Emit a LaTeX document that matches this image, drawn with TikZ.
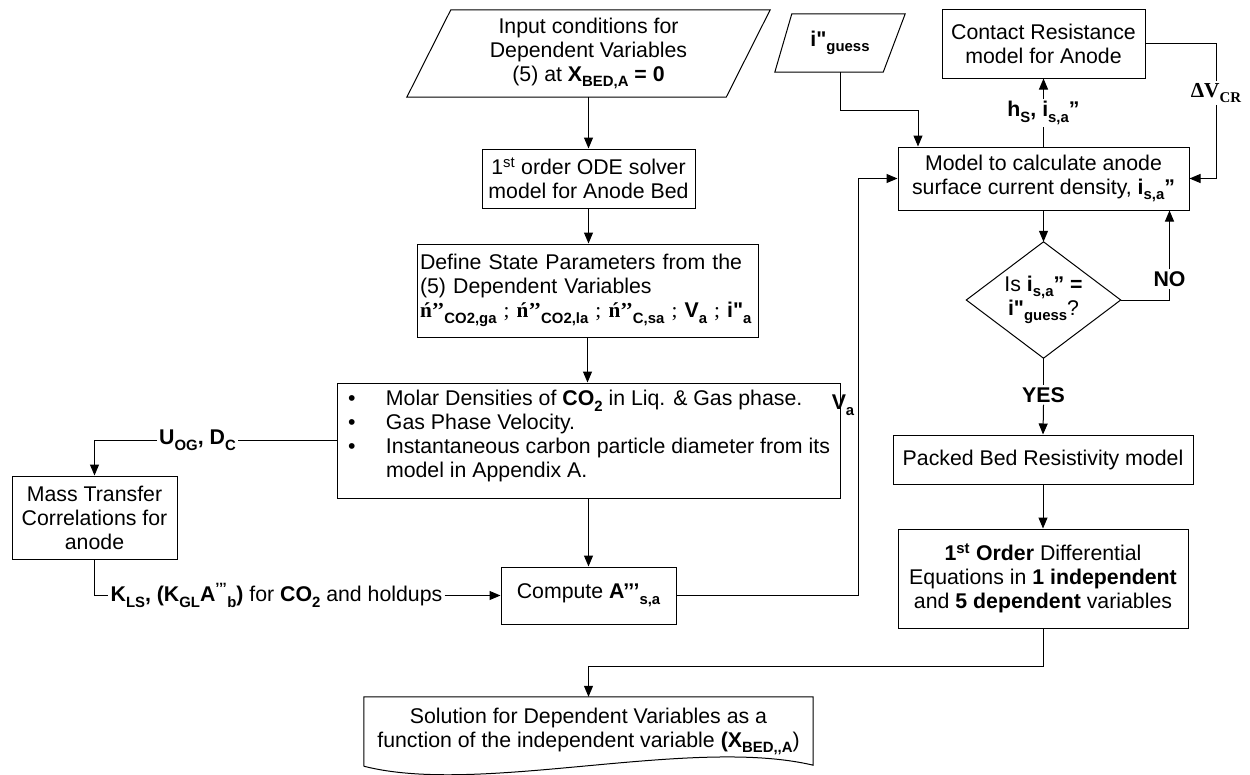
\documentclass[tikz,border=0pt]{standalone}
\usepackage{fontspec}
\setmainfont{Liberation Sans}[Ligatures=TeXOff]
\newfontfamily\tnr{Liberation Serif}[Ligatures=TeXOff]
\usetikzlibrary{arrows.meta}
\newcommand\fs{\fontsize{21.3pt}{24pt}\selectfont}
\newcommand\lo[1]{\raisebox{-0.5ex}{\fontsize{14.9pt}{15pt}\selectfont #1}}
\newcommand\hi[1]{\textsuperscript{#1}}
\begin{document}
\begin{tikzpicture}[x=1pt,y=-1pt,
  box/.style={draw, line width=1pt, font=\fs, align=center, inner sep=2pt},
  ghost/.style={font=\fs, align=center, inner sep=0pt},
  lbl/.style={font=\fs\bfseries, inner sep=2pt, fill=white},
  conn/.style={line width=1pt},
  arr/.style={conn, -{Triangle[length=11pt,width=9pt]}}]
\useasboundingbox (0,0) rectangle (1250,774);

% input parallelogram
\node[ghost, minimum width=363pt, minimum height=87pt] (inp) at (588.5,53.5)
  {Input conditions for\\Dependent Variables\\(5) at \textbf{X\lo{BED,A} = 0}};
\draw[conn] ([xshift=44pt]inp.north west) -- (inp.north east) -- ([xshift=-44pt]inp.south east) -- (inp.south west) -- cycle;

% guess parallelogram
\node[ghost, minimum width=130pt, minimum height=58pt] (gs) at (840,43) {\textbf{i"\lo{guess}}};
\draw[conn] ([xshift=17pt]gs.north west) -- (gs.north east) -- ([xshift=-22pt]gs.south east) -- (gs.south west) -- cycle;

\node[box, minimum width=213pt, minimum height=59pt] (ode) at (588.5,178.5)
  {1\hi{st} order ODE solver\\model for Anode Bed};

\node[box, text width=335pt, inner xsep=3pt, minimum height=93pt, align=left] (def) at (587.5,290.5)
  {Define State Parameters from the\\(5) Dependent Variables\\{\tnr\bfseries ń’’}\textbf{\lo{CO2,ga}} {\tnr ;} {\tnr\bfseries ń’’}\textbf{\lo{CO2,la}} {\tnr ;} {\tnr\bfseries ń’’}\textbf{\lo{C,sa}} {\tnr ;} \textbf{V\lo{a}} {\tnr ;} \textbf{i"\lo{a}}};

\node[box, minimum width=503pt, minimum height=115pt, inner xsep=5pt, align=left, anchor=west] (bul) at (337,440.5)
  {\begin{tabular}{@{}p{38pt}@{}l@{}}
  \textbullet & Molar Densities of \textbf{CO\lo{2}} in Liq. \& Gas phase.\\
  \textbullet & Gas Phase Velocity.\\
  \textbullet & Instantaneous carbon particle diameter from its\\
   & model in Appendix A.\\[7pt]
  \end{tabular}};

\node[box, minimum width=165pt, minimum height=83pt] (mt) at (94.5,517.5)
  {Mass Transfer\\Correlations for\\anode};

\node[box, minimum width=175pt, minimum height=57pt] (cmp) at (588.5,595.5)
  {Compute \textbf{A’’’\lo{s,a}}};

\node[box, minimum width=203pt, minimum height=69pt] (con) at (1043.5,43.5)
  {Contact Resistance\\model for Anode};

\node[box, minimum width=291pt, minimum height=63pt] (mdl) at (1043.5,178.5)
  {Model to calculate anode\\surface current density, \textbf{i\lo{s,a}”}};

% decision diamond
\node[ghost, minimum width=154pt, minimum height=116pt] (dia) at (1043.5,300)
  {Is \textbf{i\lo{s,a}” =}\\\textbf{i"\lo{guess}}?};
\draw[conn] (dia.north) -- (dia.east) -- (dia.south) -- (dia.west) -- cycle;

\node[box, minimum width=300pt, minimum height=49pt] (pk) at (1043,459.5)
  {Packed Bed Resistivity model};

\node[box, minimum width=290pt, minimum height=99pt] (ord) at (1043,578.5)
  {\textbf{1\hi{st} Order} Differential\\Equations in \textbf{1 independent}\\and \textbf{5 dependent} variables};

% solution (document shape)
\node[ghost, minimum width=449pt, minimum height=69pt] (sol) at (588.5,731.5)
  {Solution for Dependent Variables as a\\function of the independent variable \textbf{(X\lo{BED,,A}})};
\draw[conn] (sol.south west) -- (sol.north west) -- (sol.north east) -- ([yshift=1pt]sol.south east)
  .. controls (690,736) and (480,796) .. (sol.south west);

% labels
\node[lbl] (uog) at (197.5,440.5) {U\lo{OG}, D\lo{C}};
\node[lbl, font=\fs] (kl) at (276.5,595.5) {\textbf{K\lo{LS}, (K\lo{GL}A\hi{’’’}\lo{b})} for \textbf{CO\lo{2}} and holdups};
\node[lbl, fill=none] (va) at (843,405) {V\lo{a}};
\node[lbl] (hs) at (1043.5,113) {h\lo{S}, i\lo{s,a}”};
\node[lbl, font=\fs\tnr\bfseries] (dv) at (1216,93) {ΔV\lo{CR}};
\node[lbl] (no) at (1169.5,279) {NO};
\node[lbl] (yes) at (1043.5,395) {YES};

\coordinate (vc) at (858,178.5);
\coordinate (gc) at (918,110);
\coordinate (sc) at (588.5,666);

% connectors
\draw[arr] (inp.south) -- (ode.north);
\draw[arr] (ode.south) -- (ode.south |- def.north);
\draw[arr] (def.south) -- (def.south |- bul.north);
\draw[arr] (cmp.north |- bul.south) -- (cmp.north);
\draw[conn] (bul.west) -- (uog.east);
\draw[arr] (uog.west) -| (mt.north);
\draw[conn] (mt.south) |- (kl.west);
\draw[arr] (kl.east) -- (cmp.west);
\draw[arr] (cmp.east) -| (vc) -- (mdl.west);
\draw[arr] (gs.south) |- (gc) -- (gc |- mdl.north);
\draw[conn] (mdl.north) -- (hs.south);
\draw[arr] (hs.north) -- (con.south);
\draw[conn] (con.east) -| (dv.north);
\draw[arr] (dv.south) |- (mdl.east);
\draw[arr] (mdl.south) -- (dia.north);
\draw[conn] (dia.east) -| (no.south);
\draw[arr] (no.north) -- (no.north |- mdl.south);
\draw[conn] (dia.south) -- (yes.north);
\draw[arr] (yes.south) -- (pk.north);
\draw[arr] (pk.south) -- (ord.north);
\draw[arr] (ord.south) |- (sc) -- (sol.north);
\end{tikzpicture}
\end{document}
